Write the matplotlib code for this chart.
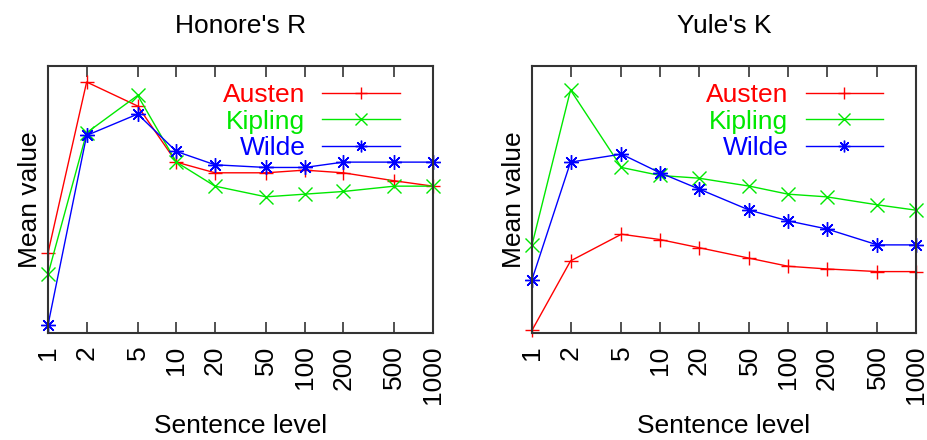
import matplotlib
matplotlib.use("Agg")
import matplotlib.pyplot as plt

plt.rcParams['font.family'] = ['Liberation Sans', 'DejaVu Sans']

levels = [1, 2, 5, 10, 20, 50, 100, 200, 500, 1000]
tick_labels = ["1", "2", "5", "10", "20", "50", "100", "200", "500", "1000"]

# Honore's R (arbitrary units, no y scale shown)
honore_austen = [0.30, 0.94, 0.85, 0.64, 0.60, 0.60, 0.61, 0.60, 0.57, 0.55]
honore_kipling = [0.22, 0.75, 0.89, 0.64, 0.55, 0.51, 0.52, 0.53, 0.55, 0.55]
honore_wilde = [0.03, 0.74, 0.82, 0.68, 0.63, 0.62, 0.62, 0.64, 0.64, 0.64]

# Yule's K (arbitrary units)
yule_austen = [0.01, 0.27, 0.37, 0.35, 0.32, 0.28, 0.25, 0.24, 0.23, 0.23]
yule_kipling = [0.33, 0.91, 0.62, 0.59, 0.58, 0.55, 0.52, 0.51, 0.48, 0.46]
yule_wilde = [0.20, 0.64, 0.67, 0.60, 0.54, 0.46, 0.42, 0.39, 0.33, 0.33]

authors = ["Austen", "Kipling", "Wilde"]
colors = ["#ff0000", "#00e800", "#0000ff"]
markers = ["+", "x", (8, 2, 0)]

W, H = 928, 440
fig = plt.figure(figsize=(W / 100, H / 100), dpi=100)

panels = [
    ("Honore's R", [honore_austen, honore_kipling, honore_wilde], 48, 433),
    ("Yule's K", [yule_austen, yule_kipling, yule_wilde], 532, 916),
]
top, bottom = 66, 333
FS = 19
for title, series, x0, x1 in panels:
    ax = fig.add_axes([x0 / W, (H - bottom) / H, (x1 - x0) / W, (bottom - top) / H])
    for name, vals, c, m in zip(authors, series, colors, markers):
        ax.plot(levels, vals, color=c, marker=m, markersize=10.5, markeredgewidth=1.0,
                linewidth=1.0, label=name, clip_on=False)
    ax.set_xscale('log')
    ax.set_xlim(1, 1000)
    ax.set_ylim(0, 1)
    ax.set_xticks(levels)
    ax.set_xticklabels(tick_labels, rotation=90, fontsize=FS)
    ax.minorticks_off()
    ax.set_yticks([])
    ax.tick_params(axis='x', direction='in', length=8, width=1.2, top=True,
                   pad=9, color='#333333')
    for s in ax.spines.values():
        s.set_linewidth(1.5)
        s.set_color('#333333')
    ax.set_title(title, fontsize=FS, pad=24)
    ax.set_ylabel("Mean value", fontsize=FS, labelpad=4)
    ax.set_xlabel("Sentence level", fontsize=FS, labelpad=7)
    leg = ax.legend(loc='upper right', bbox_to_anchor=(0.915, 0.935), frameon=False,
                    markerfirst=False, fontsize=FS, handlelength=2.95,
                    handletextpad=0.65, labelspacing=0.09, borderaxespad=0.0,
                    borderpad=0.0, markerscale=0.8)
    for t, c in zip(leg.get_texts(), colors):
        t.set_color(c)

fig.savefig("out.png", dpi=100)
